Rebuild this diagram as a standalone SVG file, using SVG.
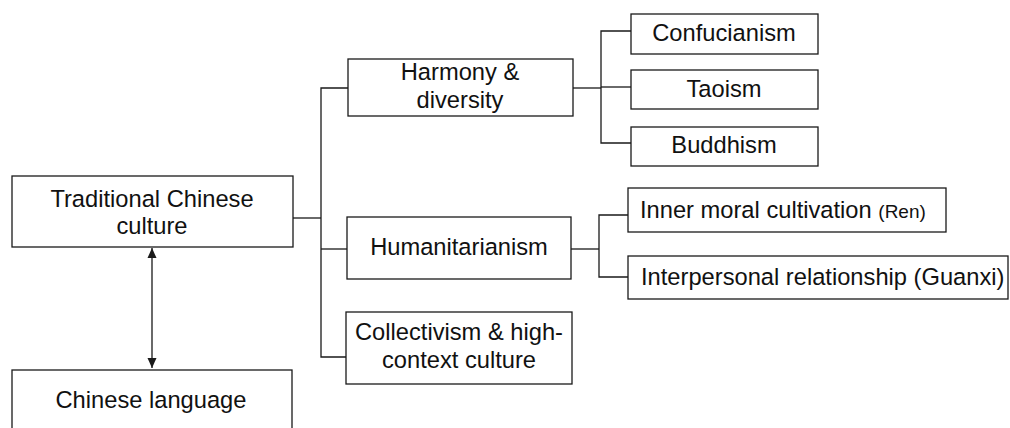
<svg xmlns="http://www.w3.org/2000/svg" width="1010" height="428" viewBox="0 0 1010 428">
<defs>
<style>
.box{fill:#fff;stroke:#1a1a1a;stroke-width:1.3}
.t{font-family:"Liberation Sans",Arial,sans-serif;font-size:23.7px;fill:#111;text-anchor:middle}
.ts{text-anchor:start}
.sm{font-size:19px}
.ln{fill:none;stroke:#1a1a1a;stroke-width:1.3}
</style>
<marker id="ah" viewBox="0 0 10 10" refX="10" refY="5" markerWidth="10" markerHeight="10" markerUnits="userSpaceOnUse" orient="auto-start-reverse">
<path d="M0,0.5 L10,5 L0,9.5 z" fill="#1a1a1a"/>
</marker>
</defs>
<rect width="1010" height="428" fill="#fff"/>
<g id="connectors">
<polyline class="ln" points="293,218 321,218"/>
<polyline class="ln" points="348,88 321,88 321,357 346,357"/>
<polyline class="ln" points="321,249 347,249"/>
<polyline class="ln" points="573,88 601,88"/>
<polyline class="ln" points="631,31 601,31 601,143 631,143"/>
<polyline class="ln" points="601,87 631,87"/>
<polyline class="ln" points="571,249 599,249"/>
<polyline class="ln" points="628,215 599,215 599,277 628,277"/>
<line class="ln" x1="152" y1="248" x2="152" y2="368" marker-start="url(#ah)" marker-end="url(#ah)"/>
</g>
<g id="traditional">
<rect class="box" x="12" y="176" width="281" height="71"/>
<text class="t" x="152" y="207">Traditional Chinese</text>
<text class="t" x="152" y="234">culture</text>
</g>
<g id="language">
<rect class="box" x="12" y="370" width="280" height="70"/>
<text class="t" x="151" y="408">Chinese language</text>
</g>
<g id="harmony">
<rect class="box" x="348" y="59" width="225" height="57"/>
<text class="t" x="460" y="80">Harmony &amp;</text>
<text class="t" x="460" y="108">diversity</text>
</g>
<g id="humanitarianism">
<rect class="box" x="347" y="217" width="224" height="62"/>
<text class="t" x="459" y="255">Humanitarianism</text>
</g>
<g id="collectivism">
<rect class="box" x="346" y="312" width="226" height="72"/>
<text class="t" x="459" y="340">Collectivism &amp; high-</text>
<text class="t" x="459" y="368">context culture</text>
</g>
<g id="confucianism">
<rect class="box" x="631" y="14" width="187" height="40"/>
<text class="t" x="724" y="41">Confucianism</text>
</g>
<g id="taoism">
<rect class="box" x="631" y="70" width="187" height="39"/>
<text class="t" x="724" y="97">Taoism</text>
</g>
<g id="buddhism">
<rect class="box" x="631" y="127" width="187" height="39"/>
<text class="t" x="724" y="153">Buddhism</text>
</g>
<g id="inner">
<rect class="box" x="628" y="188" width="318" height="44"/>
<text class="t ts" x="640" y="218">Inner moral cultivation <tspan class="sm">(Ren)</tspan></text>
</g>
<g id="interpersonal">
<rect class="box" x="628" y="256" width="380" height="43"/>
<text class="t ts" x="641" y="285">Interpersonal relationship (Guanxi)</text>
</g>
</svg>
